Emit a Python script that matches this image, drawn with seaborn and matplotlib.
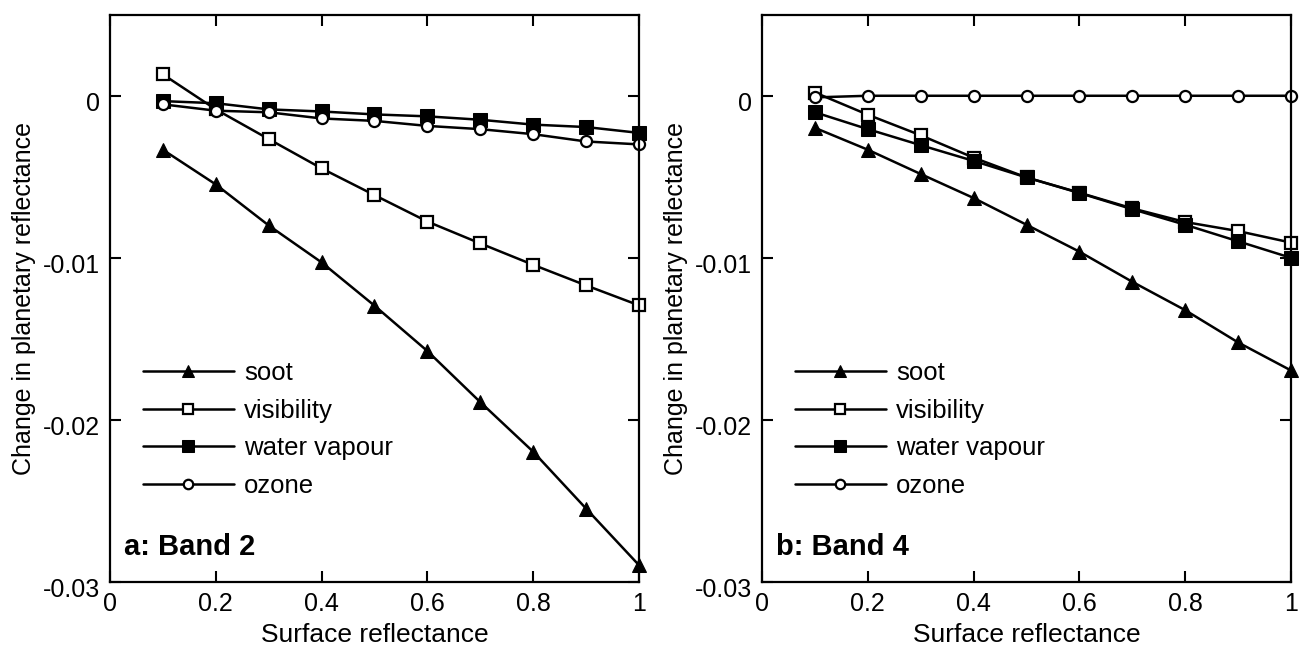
import matplotlib
matplotlib.use("Agg")
import matplotlib.pyplot as plt
import matplotlib.transforms as mtransforms
import seaborn as sns
import pandas as pd

x = [0.1, 0.2, 0.3, 0.4, 0.5, 0.6, 0.7, 0.8, 0.9, 1.0]

# Panel a: Band 2
a_soot = [-0.00333, -0.00547, -0.0080, -0.01028, -0.01295, -0.01575, -0.0189, -0.02196, -0.02547, -0.02896]
a_visibility = [0.00132, -0.00084, -0.00267, -0.00448, -0.00613, -0.00776, -0.00911, -0.01043, -0.0117, -0.01293]
a_water = [-0.00033, -0.00046, -0.00084, -0.00097, -0.00115, -0.00127, -0.00148, -0.00178, -0.00193, -0.00229]
a_ozone = [-0.00053, -0.00092, -0.00102, -0.0014, -0.00155, -0.00186, -0.00206, -0.00237, -0.00282, -0.0030]

# Panel b: Band 4
b_soot = [-0.00198, -0.00333, -0.00483, -0.00631, -0.00796, -0.00962, -0.01148, -0.01323, -0.01522, -0.01695]
b_visibility = [0.0002, -0.00117, -0.00244, -0.00382, -0.00504, -0.00598, -0.00695, -0.00779, -0.00835, -0.00906]
b_water = [-0.00102, -0.00206, -0.00305, -0.00402, -0.00504, -0.0060, -0.0070, -0.00796, -0.00898, -0.0100]
b_ozone = [-0.0001, 0.0, 0.0, 0.0, 0.0, 0.0, 0.0, 0.0, 0.0, 0.0]

series_names = ["soot", "visibility", "water vapour", "ozone"]
panel_titles = ["a: Band 2", "b: Band 4"]
xticks = [0, 0.2, 0.4, 0.6, 0.8, 1.0]
xticklabels = ["0", "0.2", "0.4", "0.6", "0.8", "1"]
yticks = [-0.03, -0.02, -0.01, 0]
yticklabels = ["-0.03", "-0.02", "-0.01", "0"]

sns.set_theme(style="ticks")
plt.rcParams["font.family"] = ["Liberation Sans", "DejaVu Sans"]
for k in ["text.color", "axes.labelcolor", "xtick.color", "ytick.color", "axes.edgecolor"]:
    plt.rcParams[k] = "black"

styles = {
    "soot": dict(marker="^", markersize=10, markerfacecolor="black", markeredgecolor="black"),
    "visibility": dict(marker="s", markersize=8.5, markerfacecolor="white", markeredgecolor="black", markeredgewidth=1.6),
    "water vapour": dict(marker="s", markersize=10, markerfacecolor="black", markeredgecolor="black"),
    "ozone": dict(marker="o", markersize=8, markerfacecolor="white", markeredgecolor="black", markeredgewidth=1.6),
}

fig = plt.figure(figsize=(13, 6.46), dpi=100)
axes = [fig.add_axes([0.0846, 0.0991, 0.4069, 0.8781]),
        fig.add_axes([0.5862, 0.0991, 0.4069, 0.8781])]

panels = [
    [a_soot, a_visibility, a_water, a_ozone],
    [b_soot, b_visibility, b_water, b_ozone],
]

offset = mtransforms.ScaledTranslation(0, -6 / 100, fig.dpi_scale_trans)

for ax, data, title in zip(axes, panels, panel_titles):
    for name, vals in zip(series_names, data):
        df = pd.DataFrame({"x": x, "y": vals})
        sns.lineplot(data=df, x="x", y="y", ax=ax, color="black", linewidth=1.8,
                     label=name, clip_on=False, **styles[name])
    ax.set_xlim(0, 1)
    ax.set_ylim(-0.03, 0.005)
    ax.set_xticks(xticks)
    ax.set_xticklabels(xticklabels)
    ax.set_yticks(yticks)
    ax.set_yticklabels(yticklabels)
    ax.tick_params(direction="in", length=8, width=1.5, labelsize=18,
                   top=True, right=True, colors="black")
    ax.tick_params(axis="x", pad=7)
    ax.tick_params(axis="y", pad=7)
    for lab in ax.get_yticklabels():
        lab.set_transform(lab.get_transform() + offset)
    for s in ax.spines.values():
        s.set_linewidth(1.6)
        s.set_color("black")
    ax.set_xlabel("Surface reflectance", fontsize=19, labelpad=5)
    ax.set_ylabel("Change in planetary reflectance", fontsize=18, labelpad=5)
    ax.legend(loc="upper left", bbox_to_anchor=(0.018, 0.43), frameon=False,
              fontsize=18.5, handlelength=3.55, handletextpad=0.4, labelspacing=0.53,
              markerscale=0.85)
    ax.text(0.0265, 0.0617, title, transform=ax.transAxes, fontsize=21,
            fontweight="bold", va="center", ha="left")

fig.savefig("out.png", dpi=100)
